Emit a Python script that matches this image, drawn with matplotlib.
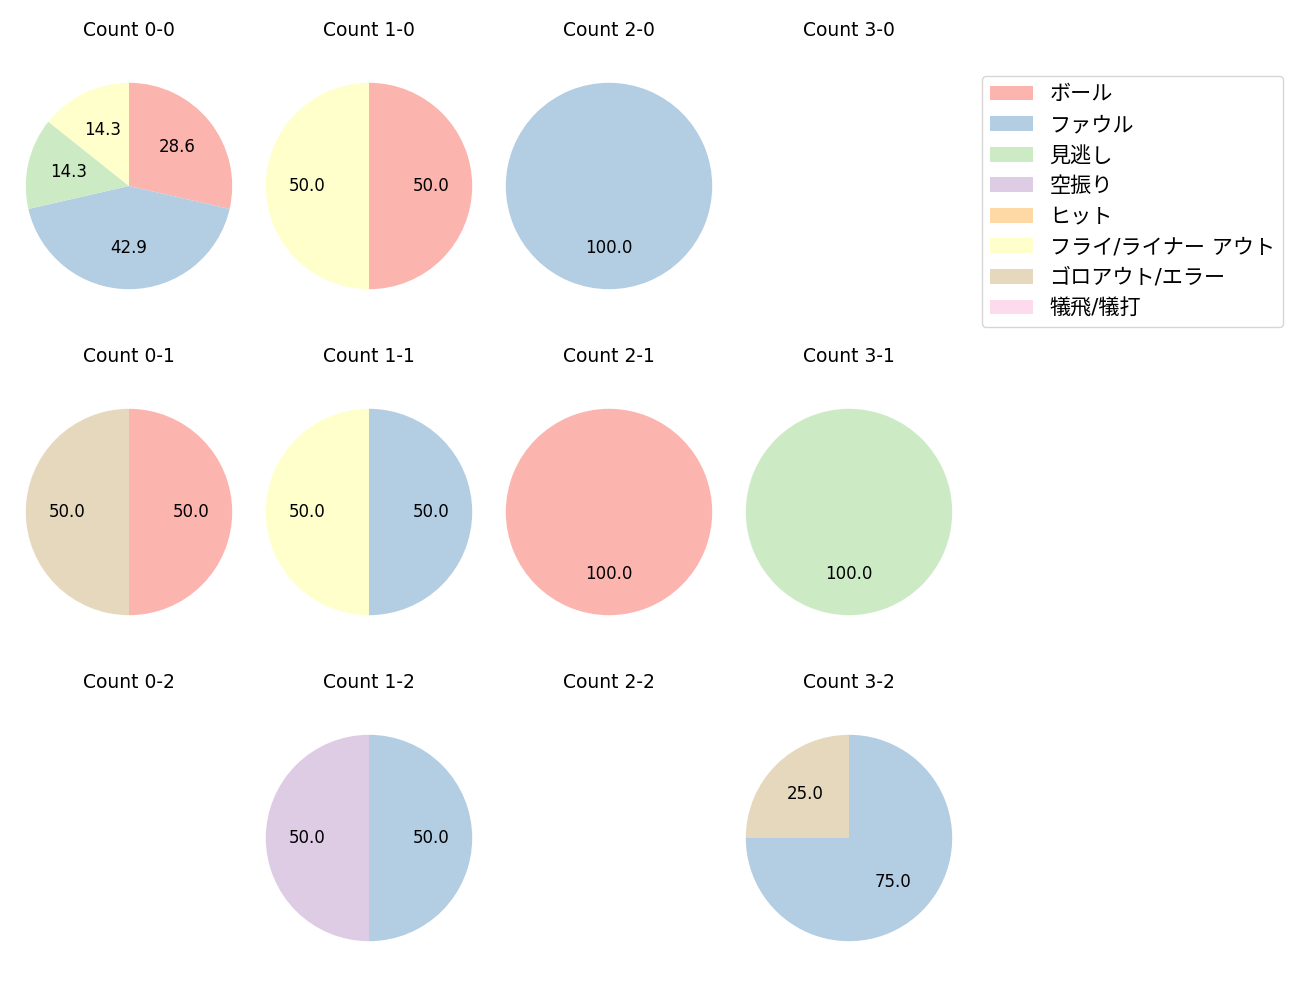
import matplotlib
matplotlib.use("Agg")
import matplotlib.pyplot as plt
from matplotlib.patches import Patch

plt.rcParams['font.family'] = ['DejaVu Sans', 'Noto Sans CJK JP']

categories = ["ボール", "ファウル", "見逃し", "空振り", "ヒット",
              "フライ/ライナー アウト", "ゴロアウト/エラー", "犠飛/犠打"]
colors = ["#fbb4ae", "#b3cde3", "#ccebc5", "#decbe4", "#fed9a6",
          "#ffffcc", "#e5d8bd", "#fddaec"]

# counts per category, in order of categories
count_titles = [["Count 0-0", "Count 1-0", "Count 2-0", "Count 3-0"],
                ["Count 0-1", "Count 1-1", "Count 2-1", "Count 3-1"],
                ["Count 0-2", "Count 1-2", "Count 2-2", "Count 3-2"]]
values = {
    "Count 0-0": [2, 3, 1, 0, 0, 1, 0, 0],
    "Count 1-0": [1, 0, 0, 0, 0, 1, 0, 0],
    "Count 2-0": [0, 1, 0, 0, 0, 0, 0, 0],
    "Count 3-0": [0, 0, 0, 0, 0, 0, 0, 0],
    "Count 0-1": [1, 0, 0, 0, 0, 0, 1, 0],
    "Count 1-1": [0, 1, 0, 0, 0, 1, 0, 0],
    "Count 2-1": [1, 0, 0, 0, 0, 0, 0, 0],
    "Count 3-1": [0, 0, 1, 0, 0, 0, 0, 0],
    "Count 0-2": [0, 0, 0, 0, 0, 0, 0, 0],
    "Count 1-2": [0, 1, 0, 1, 0, 0, 0, 0],
    "Count 2-2": [0, 0, 0, 0, 0, 0, 0, 0],
    "Count 3-2": [0, 3, 0, 0, 0, 0, 1, 0],
}

W, H = 1300, 1000
fig = plt.figure(figsize=(13, 10), dpi=100)

col_cx = [129, 369, 609, 849]
row_cy = [186, 512, 838]
S = 258  # axes side in px

for r in range(3):
    for c in range(4):
        title = count_titles[r][c]
        cx, cy = col_cx[c], row_cy[r]
        ax = fig.add_axes([(cx - S / 2) / W, 1 - (cy + S / 2) / H, S / W, S / H])
        vals = values[title]
        nz = [(v, col) for v, col in zip(vals, colors) if v > 0]
        if nz:
            ax.pie([v for v, _ in nz], colors=[col for _, col in nz],
                   startangle=90, counterclock=False, autopct='%.1f',
                   textprops={'fontsize': 12})
        ax.set_xlim(-1.25, 1.25)
        ax.set_ylim(-1.25, 1.25)
        ax.set_aspect('equal')
        ax.axis('off')
        ax.set_title(title, fontsize=13.5, pad=15)

handles = [Patch(facecolor=col, label=lab) for col, lab in zip(colors, categories)]
fig.legend(handles=handles, loc='upper left',
           bbox_to_anchor=(982 / W, 1 - 76 / H), fontsize=15.2,
           borderaxespad=0)

fig.savefig("out.png", dpi=100)
